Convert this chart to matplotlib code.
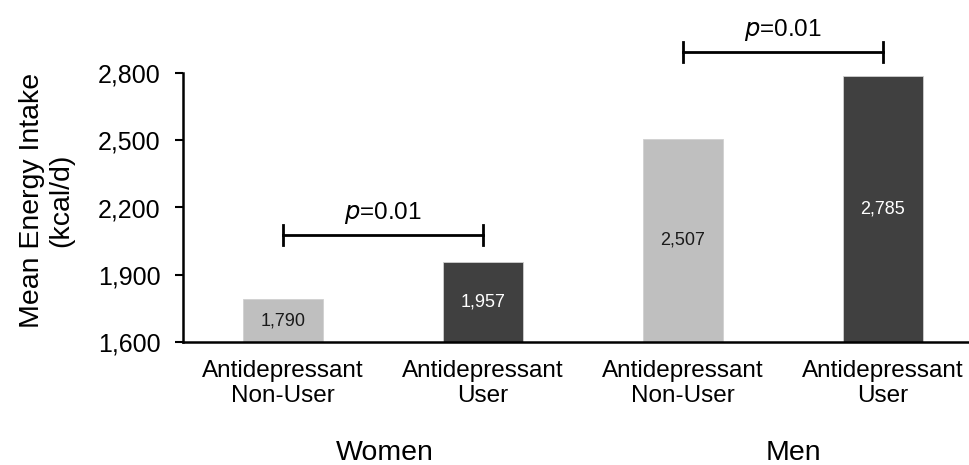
import numpy as np
import matplotlib.pyplot as plt
import matplotlib.transforms as mtransforms

plt.rcParams['font.family'] = ['Liberation Sans', 'DejaVu Sans']

# data
categories = ['Antidepressant\nNon-User', 'Antidepressant\nUser',
              'Antidepressant\nNon-User', 'Antidepressant\nUser']
groups = ['Women', 'Men']
values = [1790, 1957, 2507, 2785]
bar_colors = ['#bfbfbf', '#404040', '#bfbfbf', '#404040']
label_colors = ['#1a1a1a', 'white', '#1a1a1a', 'white']
p_labels = ['=0.01', '=0.01']
bracket_y = [2077, 2894]

ymin = 1600
yticks = [1600, 1900, 2200, 2500, 2800]

fig = plt.figure(figsize=(9.7, 4.65), dpi=100)
ax = fig.add_axes([183 / 970, 1 - 342 / 465, 1 - 183 / 970, (342 - 73) / 465])

x = np.arange(len(values))
heights = [v - ymin for v in values]
ax.bar(x, heights, bottom=ymin, width=0.4, color=bar_colors,
       edgecolor='#d0d0d0', linewidth=0.6, zorder=2)

for xi, v, c in zip(x, values, label_colors):
    ax.text(xi, (ymin + v) / 2, f'{v:,}', ha='center', va='center',
            fontsize=13, color=c)

ax.set_xlim(-0.5, 3.435)
ax.set_ylim(ymin, 2800)
ax.set_yticks(yticks)
ax.set_yticklabels([f'{t:,}' for t in yticks], fontsize=18)
ax.set_xticks(x)
ax.set_xticklabels(categories, fontsize=17.5, linespacing=1.2)
ax.tick_params(axis='x', length=0, pad=13)
ax.tick_params(axis='y', length=6, width=1.5, pad=10)

ax.spines['top'].set_visible(False)
ax.spines['right'].set_visible(False)
ax.spines['left'].set_linewidth(1.8)
ax.spines['bottom'].set_linewidth(1.8)

fig.text(47 / 970, 1 - 200 / 465, 'Mean Energy Intake\n(kcal/d)', rotation=90,
         ha='center', va='center', fontsize=20.5, linespacing=1.15,
         multialignment='center')

# significance brackets
for i, (by, pl) in enumerate(zip(bracket_y, p_labels)):
    x0, x1 = x[2 * i], x[2 * i + 1]
    cap = 44
    ax.plot([x0, x1], [by, by], color='black', lw=2, clip_on=False)
    ax.plot([x0, x0], [by - cap, by + cap], color='black', lw=2, clip_on=False)
    ax.plot([x1, x1], [by - cap, by + cap], color='black', lw=2, clip_on=False)
    ax.annotate(r'$\it{p}$' + pl, xy=((x0 + x1) / 2, by), xytext=(0, 16),
                textcoords='offset points', ha='center', va='center',
                fontsize=17.5, annotation_clip=False)

# group labels
trans = mtransforms.blended_transform_factory(ax.transData, fig.transFigure)
group_x = [(x[0] + x[1]) / 2 + 0.01, (x[2] + x[3]) / 2 + 0.05]
for gx, g in zip(group_x, groups):
    fig.text(gx, 1 - 453 / 465, g, transform=trans, ha='center', va='center',
             fontsize=20.5)

plt.savefig('out.png', dpi=100)
